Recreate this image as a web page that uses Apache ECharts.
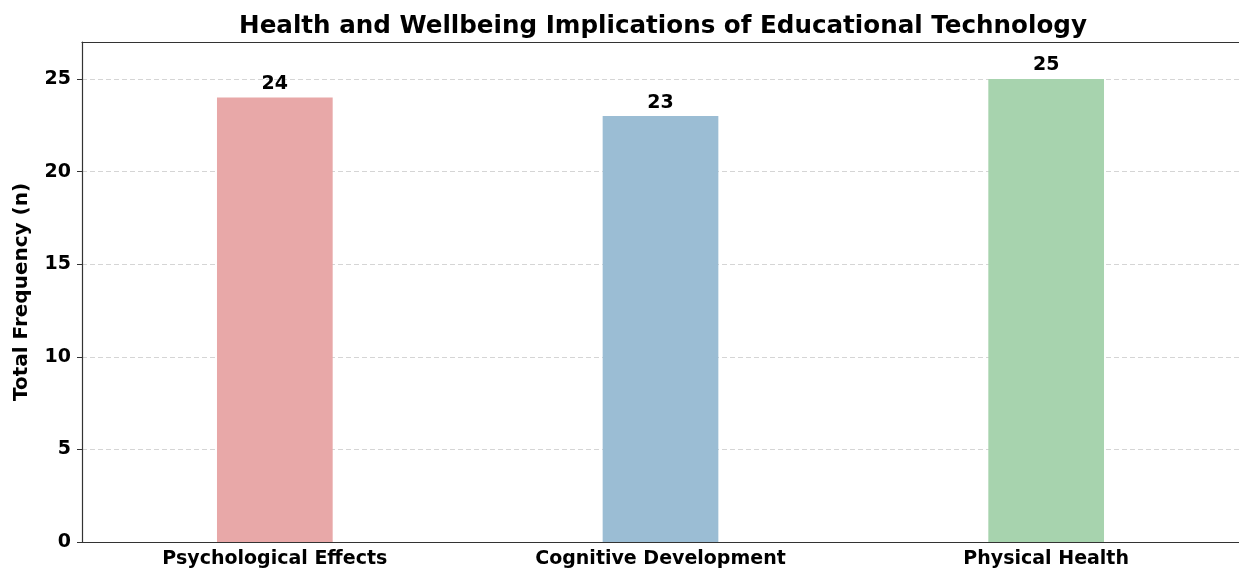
<!DOCTYPE html>
<html>
<head>
<meta charset="utf-8">
<script src="https://cdn.jsdelivr.net/npm/echarts@6/dist/echarts.min.js"></script>
<style>
  html, body { margin: 0; padding: 0; background: #fff; }
  #chart { width: 1239px; height: 571px; }
</style>
</head>
<body>
<div id="chart"></div>
<script>
// 数据
const categories = ['Psychological Effects', 'Cognitive Development', 'Physical Health'];
const frequencies = [24, 23, 25];
const barColors = ['#E8A8A8', '#9BBDD4', '#A7D3AE'];

const font = 'DejaVu Sans';

const mychart = echarts.init(document.getElementById('chart'));

const option = {
  title: {
    text: 'Health and Wellbeing Implications of Educational Technology',
    left: 658,
    textAlign: 'center',
    top: 9,
    textStyle: {
      fontFamily: font,
      fontWeight: 'bold',
      fontSize: 24.6,
      color: '#000',
    },
  },
  grid: {
    left: 82,
    right: -3,
    top: 42,
    bottom: 29,
  },
  xAxis: [
    {
      type: 'category',
      data: categories,
      axisLine: { lineStyle: { color: '#333', width: 1.2 } },
      axisTick: { alignWithLabel: true, length: 5, lineStyle: { color: '#333' } },
      axisLabel: {
        fontFamily: font,
        fontWeight: 'bold',
        fontSize: 19,
        color: '#000',
        margin: 8,
      },
    },
    {
      // 上边框
      type: 'category',
      position: 'top',
      data: categories,
      axisLine: { show: true, lineStyle: { color: '#333', width: 1.2 } },
      axisTick: { show: false },
      axisLabel: { show: false },
    },
  ],
  yAxis: {
    type: 'value',
    min: 0,
    max: 27,
    interval: 5,
    name: 'Total Frequency (n)',
    nameLocation: 'middle',
    nameGap: 50,
    nameTextStyle: {
      fontFamily: font,
      fontWeight: 'bold',
      fontSize: 20,
      color: '#000',
    },
    axisLine: { show: true, lineStyle: { color: '#333', width: 1.2 } },
    axisTick: { show: true, length: 5, lineStyle: { color: '#333' } },
    axisLabel: {
      fontFamily: font,
      fontWeight: 'bold',
      fontSize: 19,
      color: '#000',
      margin: 11,
      showMaxLabel: false,
    },
    splitLine: {
      show: true,
      lineStyle: { color: '#d5d5d5', type: [5, 3], width: 1 },
    },
  },
  series: [
    {
      type: 'bar',
      barWidth: '30%',
      data: frequencies.map((v, i) => ({ value: v, itemStyle: { color: barColors[i] } })),
      label: {
        show: true,
        position: 'top',
        distance: 4,
        fontFamily: font,
        fontWeight: 'bold',
        fontSize: 19,
        color: '#000',
      },
    },
  ],
};

mychart.setOption(option);

window.addEventListener('resize', () => {
  mychart.resize();
});
</script>
</body>
</html>
